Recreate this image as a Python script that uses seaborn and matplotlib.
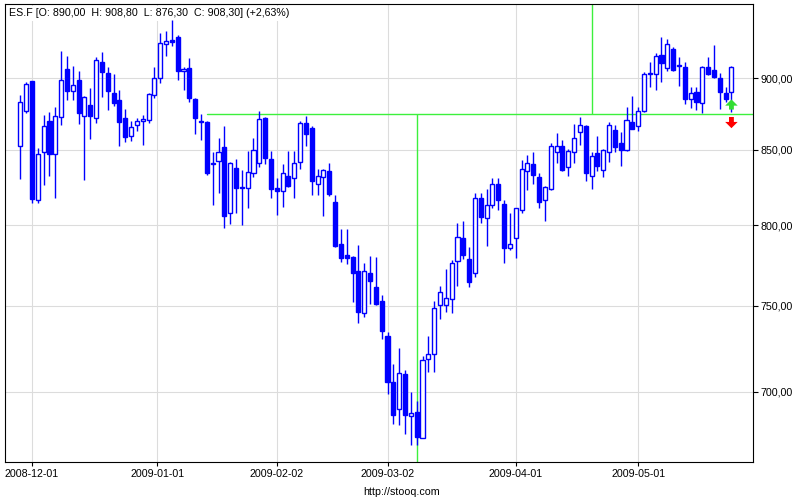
import numpy as np
import pandas as pd
import matplotlib
matplotlib.use("Agg")
import matplotlib.pyplot as plt
import seaborn as sns
from matplotlib.ticker import FixedLocator, FixedFormatter, NullLocator

# ---------------- data (ES.F daily OHLC) ----------------
opens = [852.6, 876.8, 897.9, 816.7, 848.7, 869.7, 847.4, 872.5, 906.6, 891.1,
         898.6, 873.2, 881.0, 871.8, 911.7, 903.7, 889.4, 884.5, 871.8, 859.2,
         866.9, 869.7, 870.4, 888.0, 900.0, 925.0, 927.9, 930.4, 905.1, 907.3,
         885.2, 869.5, 869.2, 841.1, 842.2, 852.1, 807.6, 837.6, 825.2, 824.6,
         834.4, 840.9, 871.8, 843.5, 824.6, 822.6, 832.4, 831.1, 841.5, 868.3,
         865.0, 827.2, 831.7, 835.9, 814.8, 787.8, 781.1, 779.6, 771.0, 745.4,
         769.7, 761.3, 752.7, 732.2, 705.4, 690.6, 710.0, 686.5, 688.8, 674.7,
         718.7, 721.4, 750.6, 750.6, 753.8, 777.1, 791.6, 778.4, 770.2, 817.4,
         804.7, 812.8, 827.2, 813.7, 785.3, 791.6, 809.6, 835.7, 840.2, 831.7,
         816.1, 823.7, 848.7, 852.8, 838.3, 848.7, 862.0, 866.4, 832.4, 848.0,
         836.3, 848.7, 863.4, 854.9, 850.0, 869.0, 866.2, 876.8, 902.9, 902.9,
         916.8, 907.3, 921.3, 909.7, 908.0, 885.2, 890.1, 882.4, 908.0, 905.8,
         900.0, 889.4, 890.0]
highs = [888.0, 897.4, 898.5, 850.9, 874.2, 876.3, 879.6, 919.9, 916.3, 909.0,
         905.3, 887.3, 893.2, 915.5, 919.2, 908.5, 902.9, 891.6, 878.2, 869.7,
         871.8, 874.0, 889.4, 908.0, 933.1, 934.8, 943.2, 931.9, 908.2, 914.8,
         886.3, 874.7, 869.5, 848.7, 858.0, 866.4, 841.9, 843.7, 836.3, 849.3,
         858.2, 876.8, 872.3, 849.3, 831.1, 840.2, 849.3, 849.3, 869.7, 873.5,
         866.4, 837.2, 837.2, 841.1, 819.4, 797.5, 797.7, 780.4, 787.4, 776.0,
         780.4, 779.8, 756.5, 734.5, 716.0, 724.9, 712.4, 699.8, 694.8, 720.1,
         732.0, 752.6, 762.2, 772.2, 777.7, 801.3, 802.6, 786.1, 821.3, 820.9,
         823.4, 830.6, 830.6, 816.3, 807.8, 811.1, 843.0, 846.5, 848.2, 834.4,
         825.9, 854.9, 861.5, 856.4, 850.7, 867.8, 872.8, 866.9, 848.7, 859.4,
         850.7, 869.2, 866.9, 862.0, 879.6, 887.3, 879.6, 904.4, 911.9, 918.4,
         930.1, 928.7, 922.8, 915.3, 911.7, 893.7, 893.7, 908.8, 915.3, 924.2,
         903.7, 893.7, 908.8]
lows = [830.2, 875.1, 814.3, 814.1, 826.3, 832.1, 817.8, 867.3, 884.9, 884.9,
        868.0, 829.5, 857.5, 868.7, 887.0, 877.2, 880.0, 852.6, 855.4, 856.1,
        863.1, 853.3, 868.7, 886.3, 896.5, 916.5, 923.4, 898.8, 891.4, 883.1,
        860.6, 856.6, 832.8, 813.2, 821.1, 798.5, 801.1, 808.0, 800.2, 811.3,
        831.5, 838.0, 840.6, 817.8, 806.7, 811.6, 825.2, 817.4, 836.7, 852.6,
        819.7, 819.7, 806.1, 819.1, 786.3, 776.8, 775.6, 752.2, 739.9, 743.4,
        751.3, 750.3, 730.1, 698.7, 682.2, 681.7, 676.4, 670.9, 670.7, 674.2,
        711.4, 711.0, 742.2, 746.3, 745.7, 761.7, 778.4, 761.1, 767.6, 801.5,
        786.9, 811.1, 810.0, 776.2, 784.4, 779.4, 808.0, 823.0, 826.9, 811.3,
        802.9, 823.0, 841.3, 835.5, 832.1, 840.9, 853.5, 828.9, 823.9, 835.7,
        831.5, 841.5, 848.7, 838.9, 849.3, 864.1, 862.7, 876.3, 893.7, 891.6,
        897.1, 905.1, 905.3, 894.4, 881.7, 878.6, 877.5, 875.4, 902.5, 900.3,
        878.2, 883.1, 876.3]
closes = [883.1, 895.8, 817.1, 847.4, 866.2, 847.4, 873.2, 898.6, 890.8, 895.1,
          875.1, 886.6, 873.0, 913.1, 904.4, 890.8, 882.8, 869.0, 858.5, 865.5,
          869.7, 871.1, 888.7, 900.0, 925.7, 927.2, 926.9, 905.5, 906.8, 885.9,
          871.8, 869.0, 834.1, 840.2, 848.7, 806.1, 840.9, 824.3, 824.3, 835.0,
          850.0, 871.1, 844.5, 823.3, 822.0, 834.4, 825.6, 840.9, 868.3, 861.0,
          828.9, 832.4, 836.3, 820.4, 786.9, 779.0, 779.4, 769.9, 746.3, 771.4,
          764.9, 750.9, 734.7, 705.6, 686.8, 710.4, 686.8, 688.1, 675.2, 718.2,
          721.6, 748.8, 758.2, 754.4, 776.0, 792.4, 780.9, 764.2, 817.4, 805.0,
          812.8, 827.2, 816.5, 785.7, 787.8, 810.9, 837.0, 840.9, 832.8, 815.2,
          825.2, 852.8, 852.8, 836.0, 849.3, 857.8, 866.9, 834.1, 845.4, 838.7,
          850.0, 866.9, 851.8, 850.0, 870.4, 864.5, 876.8, 902.9, 903.8, 916.1,
          910.9, 925.0, 905.8, 908.7, 885.2, 889.4, 883.1, 908.0, 902.9, 900.7,
          890.1, 885.0, 908.3]

holidays = ["2008-11-27", "2008-12-25", "2009-01-01", "2009-01-19",
            "2009-02-16", "2009-04-10", "2009-05-25"]
first_day = "2008-11-26"
last_day = "2009-05-26"
x_tick_dates = ["2008-12-01", "2009-01-01", "2009-02-02",
                "2009-03-02", "2009-04-01", "2009-05-01"]
y_ticks = [700, 750, 800, 850, 900]
y_tick_labels = ["700,00", "750,00", "800,00", "850,00", "900,00"]
level_price = 875.0
level_start_date = "2009-01-14"
vline_dates = ["2009-03-09", "2009-04-21"]
title = "ES.F [O: 890,00  H: 908,80  L: 876,30  C: 908,30] (+2,63%)"
footer = "http://stooq.com"

# ---------------- style ----------------
sns.set_style("white")
plt.rcParams["font.family"] = ["Liberation Sans", "DejaVu Sans"]

BLUE = "#0000ff"
GREEN = "#3cf03c"
GRID = "#dcdcdc"

dates = pd.bdate_range(first_day, last_day)
dates = dates[~dates.isin(pd.to_datetime(holidays))]
o = np.array(opens); h = np.array(highs); l = np.array(lows); c = np.array(closes)
n = len(o)
x = np.arange(n)

def date_pos(d):
    d = pd.Timestamp(d)
    i = int(np.searchsorted(dates.values, d.to_datetime64()))
    return i if (i < n and dates[i] == d) else i - 0.5

fig = plt.figure(figsize=(8, 5), dpi=100)
fig.patch.set_facecolor("white")
ax = fig.add_axes([5 / 800, 38 / 500, 748 / 800, 458 / 500])
ax.set_facecolor("white")
ax.set_yscale("log")

# candles
ax.vlines(x, l, h, color=BLUE, lw=1.0, zorder=3)
up = c >= o
bot = np.minimum(o, c)
hgt = np.abs(c - o)
ax.bar(x[up], hgt[up], bottom=bot[up], width=0.7, color="white",
       edgecolor=BLUE, linewidth=1.0, zorder=4)
ax.bar(x[~up], hgt[~up], bottom=bot[~up], width=0.7, color=BLUE,
       edgecolor=BLUE, linewidth=1.0, zorder=4)

xmin, xmax = -2.63, 125.7
ymin, ymax = 661.6, 955.4

# green level lines
ls = date_pos(level_start_date)
sns.lineplot(x=[ls, xmax], y=[level_price, level_price], ax=ax, color=GREEN,
             lw=1.0, zorder=2.5, legend=False)
v1, v2 = date_pos(vline_dates[0]), date_pos(vline_dates[1])
ax.vlines([v1], ymin, level_price, color=GREEN, lw=1.0, zorder=2.5)
ax.vlines([v2], level_price, ymax, color=GREEN, lw=1.0, zorder=2.5)

# arrows at last bar
last = n - 1
ax.annotate("", xy=(last, 885.0), xytext=(last, 877.8),
            arrowprops=dict(arrowstyle="simple,head_length=0.45,head_width=0.9,tail_width=0.35",
                            fc="#33dd33", ec="none", shrinkA=0, shrinkB=0,
                            mutation_scale=10), zorder=6)
ax.annotate("", xy=(last, 864.8), xytext=(last, 872.6),
            arrowprops=dict(arrowstyle="simple,head_length=0.45,head_width=0.9,tail_width=0.35",
                            fc="#ff0000", ec="none", shrinkA=0, shrinkB=0,
                            mutation_scale=10), zorder=6)

ax.set_xlim(xmin, xmax)
ax.set_ylim(ymin, ymax)

ax.yaxis.set_major_locator(FixedLocator(y_ticks))
ax.yaxis.set_major_formatter(FixedFormatter(y_tick_labels))
ax.yaxis.set_minor_locator(NullLocator())
ax.yaxis.tick_right()
ax.xaxis.set_major_locator(FixedLocator([date_pos(d) for d in x_tick_dates]))
ax.xaxis.set_major_formatter(FixedFormatter(x_tick_dates))
ax.tick_params(axis="y", which="major", left=False, right=True, direction="out",
               length=3.5, width=0.8, pad=2, labelsize=7.7, colors="black")
ax.tick_params(axis="x", which="major", bottom=True, direction="out",
               length=3.0, width=0.8, pad=2, labelsize=7.7, colors="black")
ax.set_xlabel(""); ax.set_ylabel("")
ax.grid(True, color=GRID, lw=0.8)
ax.set_axisbelow(True)
for s in ax.spines.values():
    s.set_visible(True)
    s.set_color("black")
    s.set_linewidth(0.8)

ax.text(4 / 748, 1 - 9.5 / 458, title, transform=ax.transAxes, ha="left", va="center",
        fontsize=7.7, color="black", zorder=2.8,
        bbox=dict(facecolor="white", edgecolor="none", pad=1.8))
fig.text(401.5 / 800, 1 - 492 / 500, footer, ha="center", va="center",
         fontsize=7.7, color="black")

fig.savefig("out.png", dpi=100, facecolor="white")
